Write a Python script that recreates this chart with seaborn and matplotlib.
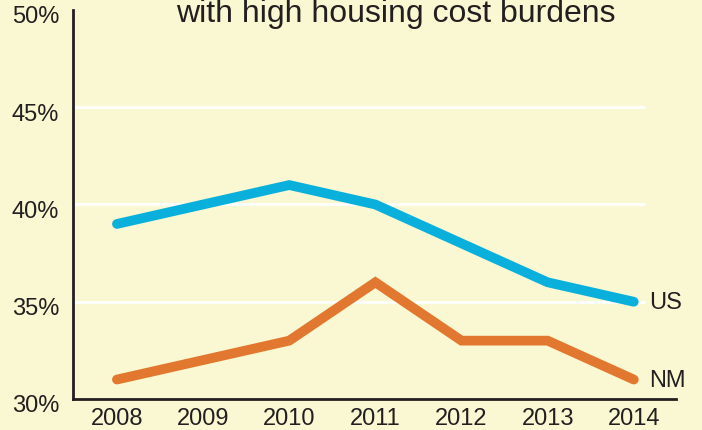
import pandas as pd
import matplotlib.pyplot as plt
import matplotlib.transforms as mtransforms
import seaborn as sns

years = [2008, 2009, 2010, 2011, 2012, 2013, 2014]
us = [39, 40, 41, 40, 38, 36, 35]
nm = [31, 32, 33, 36, 33, 33, 31]
yticks = [30, 35, 40, 45, 50]

df = pd.DataFrame({"year": years * 2, "pct": us + nm,
                   "area": ["US"] * len(years) + ["NM"] * len(years)})

bg = "#FAF8D3"
ink = "#231F20"
sns.set_style("white")
plt.rcParams["font.family"] = ["Liberation Sans", "DejaVu Sans"]

fig = plt.figure(figsize=(7.02, 4.31), dpi=100, facecolor=bg)
ax = fig.add_axes([73 / 702, (431 - 400) / 431, (676 - 73) / 702, (400 - 11) / 431])
ax.set_facecolor(bg)

# grid lines (white, stop short of the right edge)
for t in [35, 40, 45]:
    ax.plot([2007.5, 2014.12], [t, t], color="white", lw=2, zorder=1)

palette = {"US": "#0AB0DC", "NM": "#E2782F"}
sns.lineplot(data=df, x="year", y="pct", hue="area", palette=palette,
             linewidth=7, legend=False, ax=ax, zorder=3,
             solid_capstyle="round", solid_joinstyle="miter")

ax.text(years[-1] + 0.18, us[-1], "US", fontsize=17, va="center", color=ink)
ax.text(years[-1] + 0.18, nm[-1], "NM", fontsize=17, va="center", color=ink)

ax.set_xlim(2007.49, 2014.49)
ax.set_ylim(30, 50)
ax.set_xticks(years)
ax.set_xticklabels([str(y) for y in years])
ax.set_yticks(yticks)
ax.set_yticklabels([f"{t}%" for t in yticks])
ax.tick_params(axis="x", direction="in", length=8, width=1.5, color=ink,
               labelsize=17, labelcolor=ink, pad=6)
ax.tick_params(axis="y", length=0, labelsize=17, labelcolor=ink, pad=10)
shift = mtransforms.ScaledTranslation(0, -4 / 100, fig.dpi_scale_trans)
for lbl in ax.get_yticklabels():
    lbl.set_transform(lbl.get_transform() + shift)
ax.set_xlabel("")
ax.set_ylabel("")

for s in ["top", "right"]:
    ax.spines[s].set_visible(False)
for s in ["left", "bottom"]:
    ax.spines[s].set_color(ink)
    ax.spines[s].set_linewidth(2)

fig.text(396 / 702, (431 - 22) / 431, "with high housing cost burdens",
         ha="center", va="baseline", fontsize=23, color=ink)

fig.savefig("out.png", dpi=100, facecolor=bg)
